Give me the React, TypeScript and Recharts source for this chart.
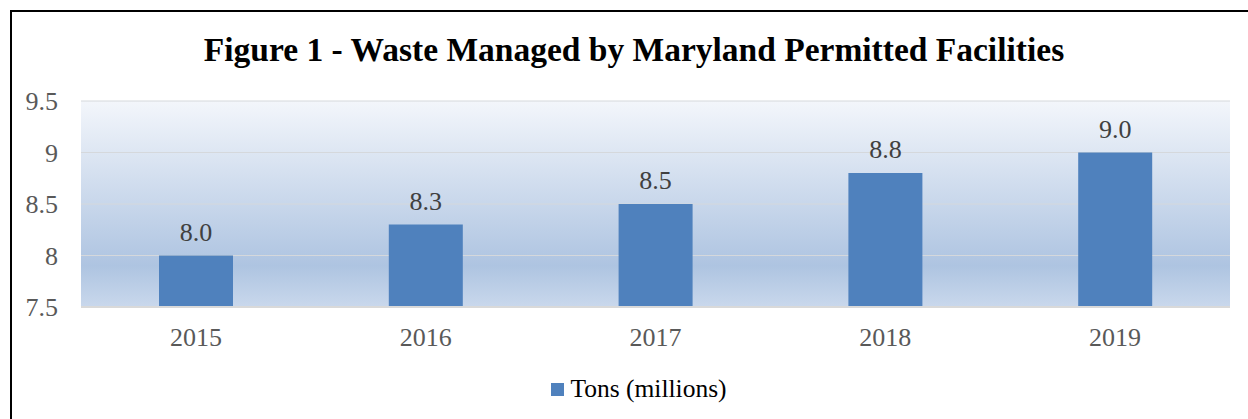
import { BarChart, Bar, XAxis, YAxis, CartesianGrid, Legend, LabelList } from "recharts";

const years = ["2015", "2016", "2017", "2018", "2019"];
const tons = [8.0, 8.3, 8.5, 8.8, 9.0];
const yTicks = [7.5, 8, 8.5, 9, 9.5];
const seriesName = "Tons (millions)";
const title = "Figure 1 - Waste Managed by Maryland Permitted Facilities";

const data = years.map((year, i) => ({ year, tons: tons[i] }));

const FONT = "'Liberation Serif', 'DejaVu Serif', serif";

function LegendBox() {
  return (
    <div
      style={{
        height: 70,
        paddingTop: 25,
        paddingLeft: 48,
        boxSizing: "border-box",
        display: "flex",
        justifyContent: "center",
        alignItems: "flex-start",
        fontFamily: FONT,
        fontSize: 25.5,
        color: "#000",
      }}
    >
      <span style={{ display: "inline-block", width: 13, height: 13, background: "#4F81BD", marginTop: 9, marginRight: 6 }} />
      <span style={{ lineHeight: "30px" }}>{seriesName}</span>
    </div>
  );
}

export default function App() {
  return (
    <div style={{ position: "absolute", left: 0, top: 0, width: 1248, height: 419, background: "#fff", overflow: "hidden" }}>
      <div
        style={{
          position: "absolute",
          left: 10,
          top: 10,
          width: 1260,
          height: 430,
          borderTop: "2px solid #000",
          borderLeft: "2px solid #000",
        }}
      />
      <div
        style={{
          position: "absolute",
          left: 0,
          top: 29,
          width: 1268,
          textAlign: "center",
          fontFamily: FONT,
          fontWeight: "bold",
          fontSize: 33.5,
          color: "#000",
          lineHeight: "42px",
        }}
      >
        {title}
      </div>
      <div style={{ position: "absolute", left: 0, top: 0 }}>
        <BarChart width={1248} height={419} data={data} margin={{ top: 101, right: 18, bottom: 0, left: 0 }}>
          <defs>
            <linearGradient id="plotBg" x1="0" y1="0" x2="0" y2="1">
              <stop offset="0" stopColor="#F3F6FB" />
              <stop offset="0.8" stopColor="#AEC4E1" />
              <stop offset="1" stopColor="#C9D8EC" />
            </linearGradient>
          </defs>
          <CartesianGrid vertical={false} stroke="#D5D8DC" fill="url(#plotBg)" />
          <XAxis
            dataKey="year"
            height={42}
            axisLine={{ stroke: "#D9D9D9", strokeWidth: 2 }}
            tickLine={false}
            tickSize={0}
            tickMargin={21}
            tick={{ fill: "#595959", fontSize: 26, fontFamily: FONT }}
          />
          <YAxis
            width={81}
            domain={[7.5, 9.5]}
            ticks={yTicks}
            axisLine={false}
            tickLine={false}
            tickSize={0}
            tickMargin={23}
            tick={{ fill: "#595959", fontSize: 26, fontFamily: FONT }}
          />
          <Legend verticalAlign="bottom" content={() => <LegendBox />} />
          <Bar dataKey="tons" name={seriesName} fill="#4F81BD" barSize={74} isAnimationActive={false}>
            <LabelList
              dataKey="tons"
              position="top"
              offset={15}
              formatter={(v: number) => v.toFixed(1)}
              style={{ fill: "#404040", fontSize: 26, fontFamily: FONT }}
            />
          </Bar>
        </BarChart>
      </div>
    </div>
  );
}
